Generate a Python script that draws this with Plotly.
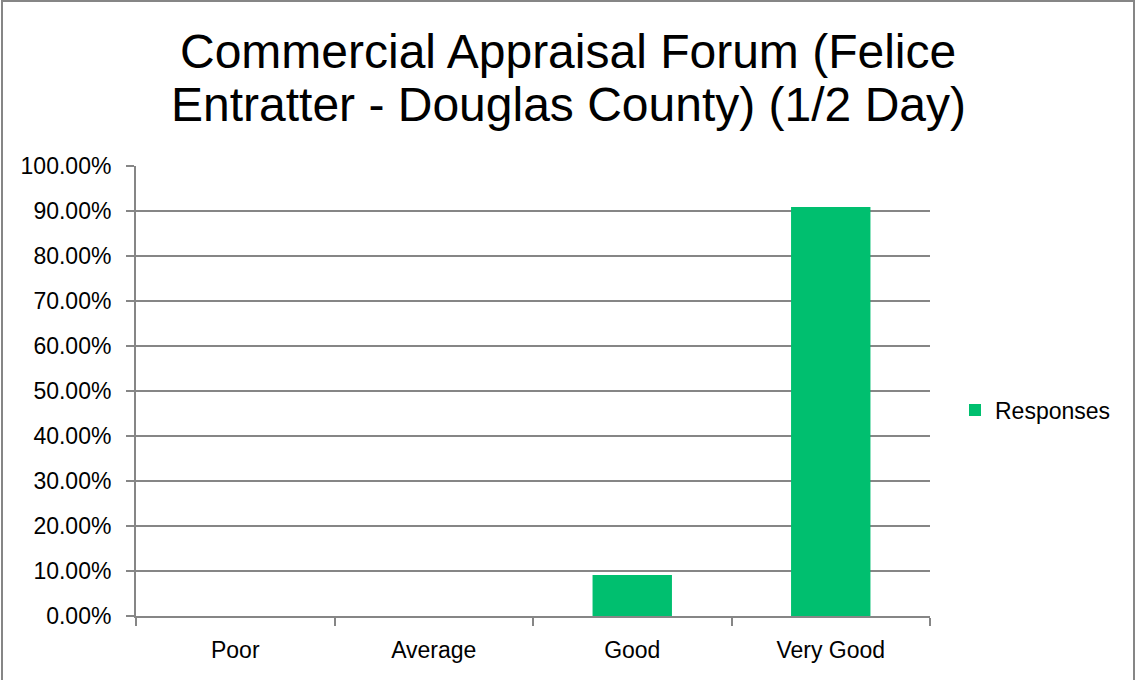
import plotly.graph_objects as go

categories = ["Poor", "Average", "Good", "Very Good"]
responses = [0.0, 0.0, 0.0909, 0.9091]
series_name = "Responses"
title_lines = ["Commercial Appraisal Forum (Felice",
               "Entratter - Douglas County) (1/2 Day)"]
y_ticks = [i / 10 for i in range(11)]

W, H = 1136, 680
L, R, T, B = 136, 206, 166, 64
PW, PH = W - L - R, H - T - B

font_family = "Liberation Sans, Arial, sans-serif"
tick_size = 23

fig = go.Figure()
fig.add_trace(go.Bar(
    x=categories, y=responses, name=series_name,
    marker=dict(color="#00BF6F", line=dict(width=0)),
    width=0.4, showlegend=True,
))

annotations = []
for i, (line, ypx) in enumerate(zip(title_lines, [52, 105])):
    annotations.append(dict(
        text=line, xref="paper", yref="paper",
        x=(568 - L) / PW, y=(T + PH - ypx) / PH,
        xanchor="center", yanchor="middle", showarrow=False,
        font=dict(family=font_family, size=48, color="black"),
    ))

fig.update_layout(
    width=W, height=H,
    margin=dict(l=L, r=R, t=T, b=B),
    paper_bgcolor="white", plot_bgcolor="white",
    font=dict(family=font_family, size=tick_size, color="black"),
    showlegend=True,
    legend=dict(x=(955 - L) / PW, y=(T + PH - 410) / PH,
                xanchor="left", yanchor="middle",
                font=dict(size=tick_size, color="black"),
                bgcolor="rgba(0,0,0,0)"),
    annotations=annotations,
)
fig.update_xaxes(
    type="category", showline=True, linecolor="#868686", linewidth=2,
    ticks="outside", tickson="boundaries", ticklen=8, tickcolor="#868686",
    tickwidth=2, showgrid=False, tickfont=dict(size=tick_size),
    ticklabelstandoff=12,
)
fig.update_yaxes(
    range=[0, 1], tickvals=y_ticks, tickformat=".2%",
    showline=True, linecolor="#868686", linewidth=2,
    ticks="outside", ticklen=8, tickcolor="#868686", tickwidth=2,
    showgrid=True, gridcolor="#868686", gridwidth=2,
    zeroline=False, tickfont=dict(size=tick_size),
    ticklabelstandoff=10,
)
# outer chart border (bottom edge falls just outside the visible page)
fig.add_shape(type="rect", xref="paper", yref="paper",
              x0=-(L - 2) / PW, x1=(W - 2 - L) / PW,
              y0=-(B + 3) / PH, y1=1 + (T - 1) / PH,
              line=dict(color="#868686", width=2), layer="below")

fig.write_html("out.html", config={"displayModeBar": False},
               post_script="document.body.style.margin='0';document.body.style.overflow='hidden';")
